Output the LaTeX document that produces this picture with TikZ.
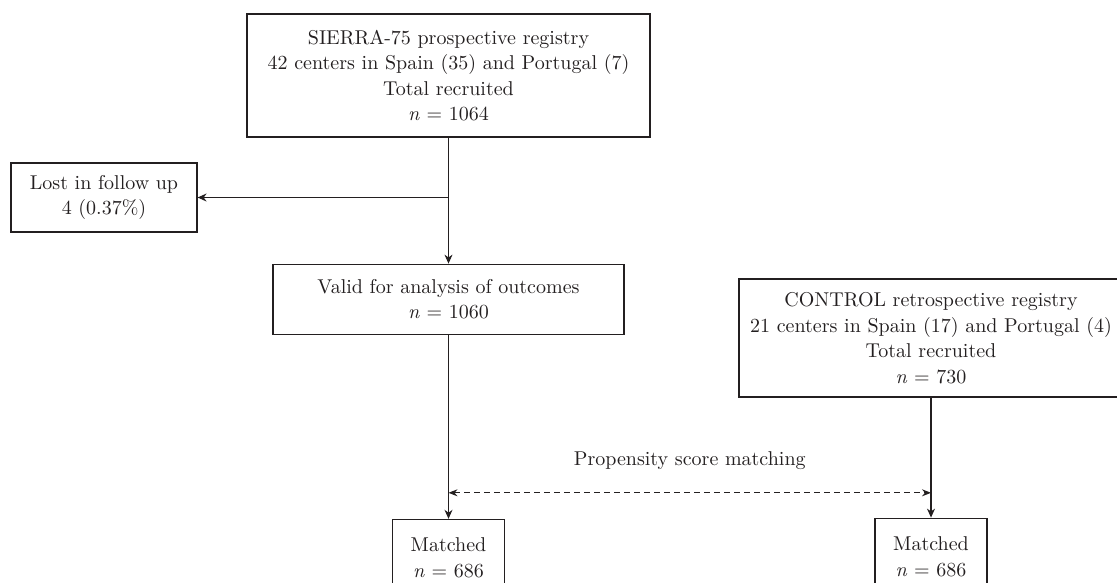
\documentclass[tikz,border=0pt]{standalone}
\usepackage{fontspec}
\setmainfont{lmroman10-regular.otf}[ItalicFont=lmroman10-italic.otf]
\usepackage{tikz}
\usetikzlibrary{arrows.meta,positioning,calc}
\definecolor{ink}{HTML}{231F20}
\tikzset{
  post/.style={->,>={Stealth[length=9pt,width=8pt]},line width=1.1pt,draw=ink},
  bidir/.style={<->,>={Stealth[length=9pt,width=7pt]},line width=1pt,draw=ink},
}

\begin{document}
\begin{tikzpicture}[x=1pt,y=-1pt,
      font=\fontsize{20}{25.5}\selectfont, text=ink,
      box/.style={draw=ink, line width=1.2pt, align=center, inner sep=0pt},
      matchbox/.style={box, minimum width=112pt, minimum height=77pt},]
      \useasboundingbox (0,0) rectangle (1117,582);
      \clip (0,0) rectangle (1117,582);

      \node[box, minimum width=403pt, minimum height=123pt] (sierra) at (448.5,75.5)
        {SIERRA-75 prospective registry\\42 centers in Spain (35) and Portugal (7)\\
         Total recruited\\\textit{n} = 1064};
      \node[box, minimum width=351pt, minimum height=70pt, below=126pt of sierra] (valid)
        {Valid for analysis of outcomes\\\textit{n} = 1060};
      \node[box, minimum width=186pt, minimum height=69pt] (lost) at (104,197.5)
        {Lost in follow up\\4 (0.37\%)};
      \node[box, minimum width=384pt, minimum height=118pt] (control) at (931,338)
        {CONTROL retrospective registry\\21 centers in Spain (17) and Portugal (4)\\
         Total recruited\\\textit{n} = 730};
      \node[matchbox, below=184pt of valid] (matchL) {Matched\\\textit{n} = 686};
      \node[matchbox, below=120pt of control] (matchR) {Matched\\\textit{n} = 686};

      \draw[post] (sierra) -- (valid);
      \draw[post] (lost.east -| sierra.south) -- (lost);
      \draw[post] (valid) -- (matchL);
      \draw[post] (control) -- (matchR);

      \draw[bidir, dash pattern=on 6pt off 4pt] ([yshift=-158pt]valid.south) coordinate (psmL)
        -- (psmL -| control.south) coordinate (psmR)
        node[midway, above=19pt] {Propensity score matching};
      \end{tikzpicture}
\end{document}
